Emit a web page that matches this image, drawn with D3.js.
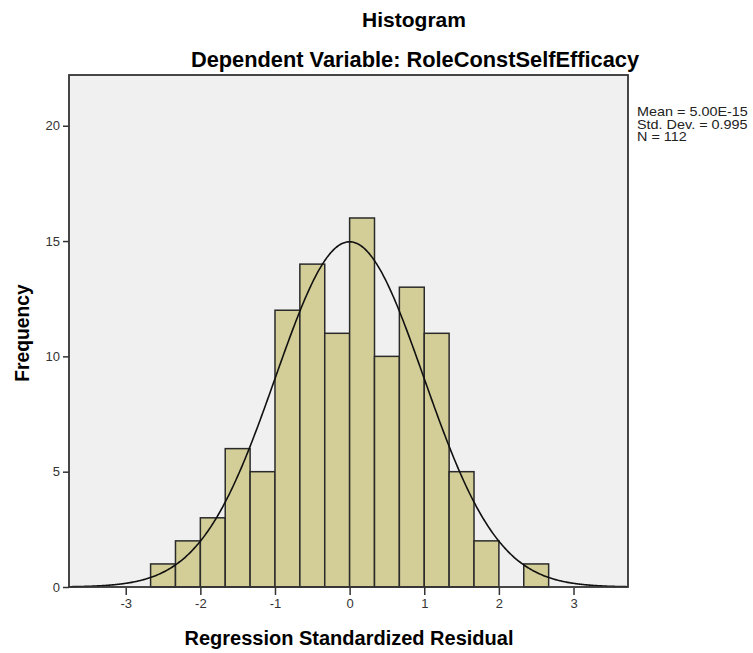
<!DOCTYPE html>
<html><head><meta charset="utf-8">
<script src="https://cdn.jsdelivr.net/npm/d3@7/dist/d3.min.js"></script>
<style>body{margin:0;background:#fff;} text{font-family:"Liberation Sans",Arial,sans-serif;}</style>
</head><body>
<svg id="c" width="753" height="653"></svg>
<script>
const binStarts = [-2.6667,-2.3333,-2,-1.6667,-1.3333,-1,-0.6667,-0.3333,0,0.3333,0.6667,1,1.3333,1.6667,2,2.3333];
const counts = [1,2,3,6,5,12,14,11,16,10,13,11,5,2,0,1];
const binWidth = 1/3;
const xTicks = [-3,-2,-1,0,1,2,3];
const yTicks = [0,5,10,15,20];
const stats = {mean:5.00e-15, sd:0.995, n:112};
const legendLines = ["Mean = 5.00E-15","Std. Dev. = 0.995","N = 112"];

const svg = d3.select("#c");
const L=69, R=628, T=75, B=587;
const x = d3.scaleLinear().domain([-3.76,3.73]).range([L,R]);
const y = d3.scaleLinear().domain([0,22.2]).range([B,T]);

svg.append("rect").attr("x",L).attr("y",T).attr("width",R-L).attr("height",B-T).attr("fill","#f0f0f0");

const g = svg.append("g");
g.selectAll("rect.bar").data(counts.map((c,i)=>({x0:binStarts[i],c}))).enter().filter(d=>d.c>0)
 .append("rect").attr("class","bar")
 .attr("x",d=>x(d.x0)).attr("width",d=>x(d.x0+binWidth)-x(d.x0))
 .attr("y",d=>y(d.c)).attr("height",d=>y(0)-y(d.c))
 .attr("fill","#d3ce97").attr("stroke","#2a2a2a").attr("stroke-width",1.5);

// normal curve from the stated mean / std. dev. / N
const pts = d3.range(-3.76,3.731,0.02).map(v=>[v, stats.n*binWidth/(stats.sd*Math.sqrt(2*Math.PI))*Math.exp(-0.5*Math.pow((v-stats.mean)/stats.sd,2))]);
svg.append("path").datum(pts).attr("d",d3.line().x(d=>x(d[0])).y(d=>y(d[1])).curve(d3.curveBasis))
 .attr("fill","none").attr("stroke","#111").attr("stroke-width",1.6);

// frame
svg.append("rect").attr("x",L).attr("y",T).attr("width",R-L).attr("height",B-T).attr("fill","none").attr("stroke","#333").attr("stroke-width",1.8);

// axes
const xa = svg.append("g").attr("transform",`translate(0,${B+1})`).call(d3.axisBottom(x).tickValues(xTicks).tickSize(7).tickPadding(4).tickFormat(d=>String(d)));
const ya = svg.append("g").attr("transform",`translate(${L},0)`).call(d3.axisLeft(y).tickValues(yTicks).tickSize(6).tickPadding(3).tickFormat(d=>String(d)));
[xa,ya].forEach(a=>{a.select(".domain").remove(); a.selectAll(".tick line").attr("stroke","#333").attr("stroke-width",1.5);
 a.selectAll(".tick text").attr("fill","#333").style("font-size","13px").style("font-family",'"Liberation Sans",Arial,sans-serif');});

// titles
svg.append("text").attr("x",414).attr("y",27).attr("text-anchor","middle").style("font-size","21px").style("font-weight","bold").text("Histogram");
svg.append("text").attr("x",415).attr("y",67).attr("text-anchor","middle").style("font-size","21.8px").style("font-weight","bold").text("Dependent Variable: RoleConstSelfEfficacy");
svg.append("text").attr("x",349).attr("y",645).attr("text-anchor","middle").style("font-size","20px").style("font-weight","bold").text("Regression Standardized Residual");
svg.append("text").attr("transform","translate(29,333) rotate(-90)").attr("text-anchor","middle").style("font-size","19.3px").style("font-weight","bold").text("Frequency");

svg.selectAll("text.leg").data(legendLines).enter().append("text").attr("class","leg")
 .attr("transform",(d,i)=>`translate(637,${116+i*12.5}) scale(1.2,1)`)
 .style("font-size","12px").attr("fill","#222").text(d=>d);
</script>
</body></html>
